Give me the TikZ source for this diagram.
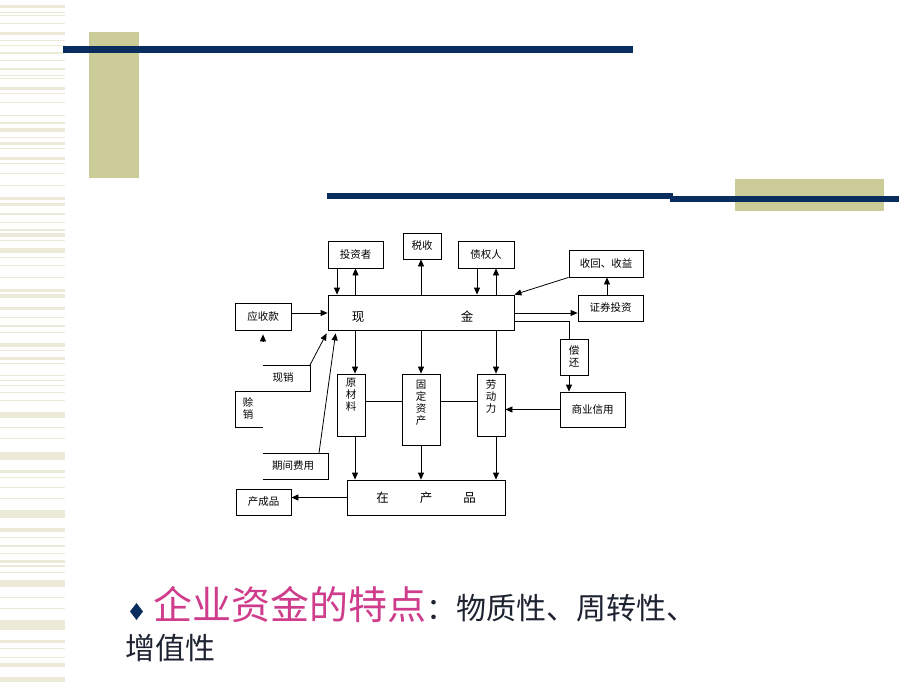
\documentclass[tikz,border=0pt]{standalone}
\usepackage{fontspec}
\newfontfamily\cjk{Noto Sans CJK SC}
\usetikzlibrary{arrows.meta,calc}
\definecolor{navyline}{RGB}{10,45,95}
\definecolor{olive}{RGB}{204,204,153}
\definecolor{stripe}{RGB}{236,235,217}
\definecolor{titlepink}{RGB}{207,60,140}
\definecolor{inkdark}{RGB}{30,35,50}

\begin{document}
\begin{tikzpicture}[
    x=1pt, y=-1pt,
    every node/.style={font=\cjk\fontsize{10.5}{12}\selectfont},
    box/.style={draw, inner sep=0pt, line width=0.8pt},
    sz/.style 2 args={minimum width=#1, minimum height=#2},
    arr/.style={-{Triangle[length=7pt,width=6pt]}, line width=0.8pt},
    link/.style={line width=0.8pt},
    vtxt/.style={align=center, anchor=north, inner sep=0pt, font=\cjk\fontsize{10.5}{12}\selectfont},
    bigtxt/.style={font=\cjk\fontsize{12.5}{14}\selectfont}
  ]
  \useasboundingbox (0,0) rectangle (920,690);
  \fill[white] (0,0) rectangle (920,690);

  % Background
  \foreach \y/\h in {5/3,12/1,15/1,23/1,32/3,40/1,45/1,52/2,60/1,68/2,75/1,78/1,87/3,93/1,
      102/1,115/1,122/2,128/4,137/1,142/3,148/1,157/3,163/1,173/1,185/1,197/3,203/3,213/2,
      222/1,229/2,233/4,240/1,248/5,257/1,265/1,277/1,289/3,294/4,307/3,317/1,325/2,332/1,
      343/4,350/1,357/3,363/1,375/1,380/1,385/1,392/1,400/1,412/6,427/1,438/1,452/8,470/3,
      477/1,487/1,498/1,510/8,528/4,537/1,545/2,553/1,560/3,565/2,572/1,580/7,597/1,608/1,
      620/10,640/3,648/1,657/1,663/4,677/5}
    \fill[stripe] (0,\y) rectangle (65,\y+\h);
  \fill[olive] (89,32) rectangle (139,178);
  \fill[navyline] (63,46) rectangle (633,53);
  \fill[olive] (735,179) rectangle (884,211);
  \fill[navyline] (327,193) rectangle (673,199);
  \fill[navyline] (670,196) rectangle (899,202);

  % Boxes
  \node[box, sz={55}{27}] (tzz) at (355.5,254.5) {投资者};
  \node[box, sz={38}{26}] (ss) at (422,246) {税收};
  \node[box, sz={56}{27}] (zqr) at (486,254.5) {债权人};
  \node[box, sz={74}{27}] (shsy) at (606,263.5) {收回、收益};
  \node[box, sz={65}{26}] (zqtz) at (610.5,308) {证券投资};
  \node[box, sz={186}{35}] (xj) at (421,312.5) {};
  \node[bigtxt] (xjl) at (358,317) {现};
  \node[bigtxt] (xjr) at (467,317) {金};
  \node[box, sz={56}{27}] (ysk) at (263,316.5) {应收款};
  \node[box, sz={28}{36}, align=center] (ch) at (574,357) {偿\\还};
  \node[box, sz={28}{62}] (ycl) at (351,405) {};
  \node[vtxt] (ycll) at ([yshift=-4pt]ycl.north) {原\\材\\料};
  \node[box, sz={38}{71}] (gdzc) at (421,409.5) {};
  \node[vtxt] (gdzcl) at ([yshift=-6pt]gdzc.north) {固\\定\\资\\产};
  \node[box, sz={28}{62}] (ldl) at (491,405) {};
  \node[vtxt] (ldll) at ([yshift=-6pt]ldl.north) {劳\\动\\力};
  \node[box, sz={65}{35}] (syxy) at (592.5,409.5) {商业信用};
  \node[box, sz={158}{35}, bigtxt] (zcp) at (426,497.5) {在\hspace{31pt}产\hspace{31pt}品};
  \node[box, sz={55}{26}] (ccp) at (263.5,502) {产成品};

  % Open boxes
  \draw[link] (263,365) -- (310,365) coordinate (xxtop) -- (310,391) -- (235,391) -- (235,427) -- (263,427);
  \node (xx) at (283,378) {现销};
  \node[align=center] (sx) at (248,408) {赊\\销};
  \draw[link] (263,453) -- (328,453) -- (328,479) -- (263,479);
  \coordinate (qjtop) at (319,453);
  \node (qj) at (293,466) {期间费用};

  % Connections
  \draw[arr] ([xshift=-18.5pt]tzz.south) -- ([xshift=-18.5pt]tzz.south |- xj.north);
  \draw[arr] (tzz.south |- xj.north) -- (tzz.south);
  \draw[arr] ([xshift=-1pt]ss.south |- xj.north) -- ([xshift=-1pt]ss.south);
  \draw[arr] ([xshift=-9pt]zqr.south) -- ([xshift=-9pt]zqr.south |- xj.north);
  \draw[arr] ([xshift=10pt]zqr.south |- xj.north) -- ([xshift=10pt]zqr.south);
  \draw[arr] (shsy.south west) -- (xj.north east);
  \draw[arr] ([xshift=-3.5pt]zqtz.north) -- ([xshift=-3.5pt]zqtz.north |- shsy.south);
  \draw[arr] ([yshift=3.5pt]ysk.east) -- ([yshift=3.5pt]ysk.east -| xj.west);
  \draw[arr] ([yshift=-5pt]zqtz.west -| xj.east) -- ([yshift=-5pt]zqtz.west);
  \draw[link] ([yshift=-8.5pt]xj.east) -| ([xshift=-5pt]ch.north);
  \draw[arr] ([xshift=-5pt]ch.south) -- ([xshift=-5pt]ch.south |- syxy.north);
  \draw[arr] (syxy.west) -- (syxy.west -| ldl.east);

  \draw[arr] ([xshift=4pt]ycl.north |- xj.south) -- ([xshift=4pt]ycl.north);
  \draw[arr] (gdzc.north |- xj.south) -- (gdzc.north);
  \draw[arr] ([xshift=5pt]ldl.north |- xj.south) -- ([xshift=5pt]ldl.north);
  \draw[link] ([yshift=4pt]ycl.east) -- ([yshift=4pt]ycl.east -| gdzc.west);
  \draw[link] ([yshift=4pt]ycl.east -| gdzc.east) -- ([yshift=4pt]ycl.east -| ldl.west);
  \draw[arr] ([xshift=4pt]ycl.south) -- ([xshift=4pt]ycl.south |- zcp.north);
  \draw[arr] (gdzc.south) -- (gdzc.south |- zcp.north);
  \draw[arr] ([xshift=5pt]ldl.south) -- ([xshift=5pt]ldl.south |- zcp.north);
  \draw[arr] (zcp.west) -- (zcp.west -| ccp.east);

  \draw[arr] (xxtop) -- ([xshift=-1pt,yshift=-3pt]xj.south west);
  \draw[arr] (qjtop) -- ([xshift=8pt,yshift=-3pt]xj.south west);
  \draw[arr] ([yshift=-11pt]ysk.south) -- ([yshift=-4pt]ysk.south);

  % Caption
  \fill[navyline] (136.5,603) -- (143,611.5) -- (136.5,620) -- (130,611.5) -- cycle;
  \node[anchor=base west, inner sep=0pt, text=titlepink, font=\cjk\fontsize{39}{44}\selectfont] (tdhead) at (153,619) {企业资金的特点};
  \node[anchor=base west, inner sep=0pt, text=inkdark, font=\cjk\fontsize{30}{36}\selectfont] (tdtail) at (tdhead.base east) {：物质性、周转性、};
  \node[anchor=base west, inner sep=0pt, text=inkdark, font=\cjk\fontsize{30}{36}\selectfont] (tdline) at (125,659) {增值性};
\end{tikzpicture}
\end{document}
